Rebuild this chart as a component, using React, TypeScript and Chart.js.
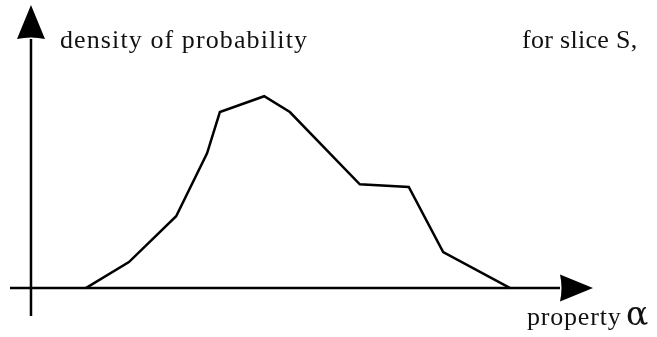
import React, { useEffect, useRef } from "react";
import { Chart, registerables } from "chart.js";

Chart.register(...registerables);

// property α values (x) and density of probability values (y)
const alphaValues = [0.94, 1.68, 2.49, 3.02, 3.24, 4.0, 4.44, 5.64, 6.48, 7.07, 8.22];
const densityValues = [0, 0.84, 2.32, 4.35, 5.68, 6.19, 5.68, 3.35, 3.26, 1.16, 0];

const yAxisTitle = "density of probability";
const xAxisTitle = "property ";
const xAxisSymbol = "α";
const sliceLabel = "for slice S,";

const W = 657;
const H = 337;

const axesPlugin = {
  id: "customAxes",
  beforeDatasetsDraw(chart: any) {
    const { ctx, chartArea, scales } = chart;
    const x0 = scales.x.getPixelForValue(0);
    const y0 = scales.y.getPixelForValue(0);
    ctx.save();
    ctx.strokeStyle = "#000";
    ctx.fillStyle = "#000";
    ctx.lineWidth = 2.5;
    // vertical axis
    const yTip = chartArea.top - 1;
    const yBase = yTip + 34;
    ctx.beginPath();
    ctx.moveTo(x0, chartArea.bottom);
    ctx.lineTo(x0, yBase);
    ctx.stroke();
    ctx.beginPath();
    ctx.moveTo(x0, yTip);
    ctx.lineTo(x0 + 14, yBase);
    ctx.quadraticCurveTo(x0, yBase - 3, x0 - 14, yBase);
    ctx.closePath();
    ctx.fill();
    // horizontal axis
    const xTip = chartArea.right;
    const xBase = xTip - 33;
    ctx.beginPath();
    ctx.moveTo(chartArea.left, y0);
    ctx.lineTo(xBase, y0);
    ctx.stroke();
    ctx.beginPath();
    ctx.moveTo(xTip, y0);
    ctx.lineTo(xBase, y0 - 13.5);
    ctx.quadraticCurveTo(xBase + 3, y0, xBase, y0 + 13.5);
    ctx.closePath();
    ctx.fill();
    ctx.restore();
  },
  afterDraw(chart: any) {
    const { ctx } = chart;
    ctx.save();
    ctx.fillStyle = "#111";
    ctx.textBaseline = "alphabetic";
    ctx.textAlign = "left";
    ctx.font = '26px "Liberation Serif", serif';
    (ctx as any).letterSpacing = "1.1px";
    ctx.fillText(yAxisTitle, 60, 48);
    (ctx as any).letterSpacing = "0.3px";
    ctx.fillText(sliceLabel, 522, 48);
    (ctx as any).letterSpacing = "0.8px";
    ctx.fillText(xAxisTitle, 527, 325);
    (ctx as any).letterSpacing = "0px";
    ctx.font = '33px "DejaVu Serif", serif';
    ctx.fillText(xAxisSymbol, 626, 325);
    ctx.restore();
  },
};

export default function App() {
  const canvasRef = useRef<HTMLCanvasElement | null>(null);

  useEffect(() => {
    if (!canvasRef.current) return;
    const chart = new Chart(canvasRef.current, {
      type: "line",
      data: {
        datasets: [
          {
            data: alphaValues.map((a, i) => ({ x: a, y: densityValues[i] })),
            borderColor: "#000",
            borderWidth: 2.5,
            pointRadius: 0,
            tension: 0,
            fill: false,
          },
        ],
      },
      options: {
        responsive: false,
        animation: false,
        layout: { padding: { left: 10, right: 64, top: 6, bottom: 21 } },
        plugins: { legend: { display: false }, tooltip: { enabled: false } },
        scales: {
          x: { type: "linear", min: -0.36, max: 9.64, display: false },
          y: { type: "linear", min: -0.9, max: 9.1, display: false },
        },
      },
      plugins: [axesPlugin],
    });
    return () => chart.destroy();
  }, []);

  return (
    <div style={{ position: "fixed", left: 0, top: 0, width: W, height: H, background: "#fff" }}>
      <canvas ref={canvasRef} width={W} height={H} />
    </div>
  );
}
